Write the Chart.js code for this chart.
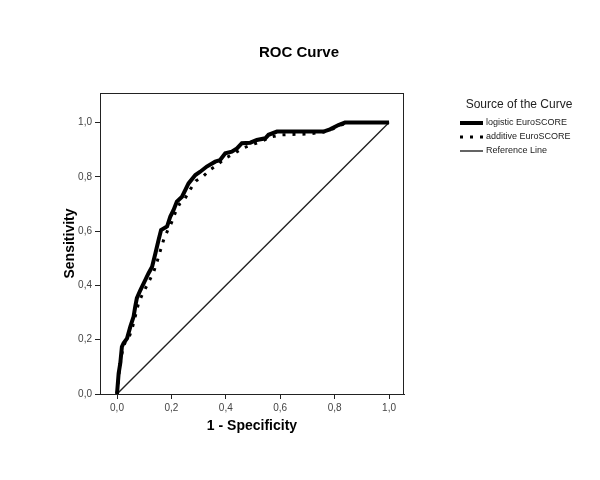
<!DOCTYPE html>
<html>
<head>
<meta charset="utf-8">
<script src="https://cdn.jsdelivr.net/npm/chart.js@4"></script>
<style>
  body { margin: 0; background: #fff; }
  #wrap { width: 600px; height: 480px; }
</style>
</head>
<body>
<div id="wrap"><canvas id="rocChart"></canvas></div>
<script>
// ROC data (1 - specificity, sensitivity)
const logisticFpr = [0, 0.006, 0.012, 0.018, 0.024, 0.037, 0.049, 0.061, 0.067, 0.073, 0.086, 0.098, 0.116, 0.129, 0.141, 0.153, 0.162, 0.184, 0.196, 0.208, 0.220, 0.239, 0.263, 0.288, 0.306, 0.330, 0.361, 0.379, 0.398, 0.422, 0.441, 0.459, 0.490, 0.514, 0.545, 0.557, 0.588, 0.759, 0.783, 0.814, 0.838, 1];
const logisticTpr = [0, 0.076, 0.113, 0.174, 0.187, 0.205, 0.248, 0.285, 0.322, 0.353, 0.383, 0.408, 0.445, 0.469, 0.518, 0.568, 0.604, 0.617, 0.654, 0.678, 0.709, 0.727, 0.776, 0.807, 0.819, 0.838, 0.856, 0.862, 0.887, 0.893, 0.905, 0.924, 0.926, 0.936, 0.942, 0.955, 0.967, 0.967, 0.975, 0.991, 1, 1];

const additiveFpr = [0, 0.008, 0.015, 0.022, 0.030, 0.045, 0.058, 0.068, 0.078, 0.090, 0.105, 0.120, 0.135, 0.148, 0.160, 0.172, 0.185, 0.200, 0.215, 0.230, 0.250, 0.270, 0.290, 0.315, 0.340, 0.370, 0.400, 0.430, 0.460, 0.500, 0.530, 0.560, 0.600, 0.700, 0.760, 0.790, 0.820, 0.850, 1];
const additiveTpr = [0, 0.080, 0.130, 0.170, 0.190, 0.210, 0.250, 0.290, 0.330, 0.360, 0.390, 0.420, 0.450, 0.490, 0.530, 0.570, 0.600, 0.630, 0.670, 0.700, 0.720, 0.755, 0.785, 0.800, 0.825, 0.845, 0.870, 0.885, 0.905, 0.920, 0.930, 0.945, 0.955, 0.958, 0.965, 0.975, 0.990, 1, 1];

const refFpr = [0, 1];
const refTpr = [0, 1];

const tickValues = [0, 0.2, 0.4, 0.6, 0.8, 1.0];
const seriesNames = ['logistic EuroSCORE', 'additive EuroSCORE', 'Reference Line'];

function toPoints(xs, ys) {
  return xs.map((x, i) => ({ x: x, y: ys[i] }));
}

function fmt(v) {
  return v.toFixed(1).replace('.', ',');
}

// box round the plot, title and legend
const frame = {
  id: 'frame',
  afterDraw(chart) {
    const { ctx, chartArea: a } = chart;
    ctx.save();
    ctx.strokeStyle = '#222';
    ctx.lineWidth = 1;
    ctx.strokeRect(a.left + 0.5, a.top + 0.5, a.right - a.left - 1, a.bottom - a.top);

    ctx.fillStyle = '#000';
    ctx.textAlign = 'center';
    ctx.textBaseline = 'middle';
    ctx.font = 'bold 15px "Liberation Sans", Arial, sans-serif';
    ctx.fillText('ROC Curve', 299, 53);

    ctx.font = '12px "Liberation Sans", Arial, sans-serif';
    ctx.fillStyle = '#222';
    ctx.fillText('Source of the Curve', 519, 105);

    ctx.textAlign = 'left';
    ctx.font = '9px "Liberation Sans", Arial, sans-serif';
    chart.data.datasets.forEach((ds, i) => {
      const y = 123 + i * 14;
      ctx.beginPath();
      ctx.strokeStyle = ds.borderColor;
      ctx.lineWidth = ds.borderWidth;
      ctx.setLineDash(ds.borderDash || []);
      ctx.moveTo(460, y);
      ctx.lineTo(483, y);
      ctx.stroke();
      ctx.setLineDash([]);
      ctx.fillStyle = '#222';
      ctx.fillText(ds.label, 486, y);
    });
    ctx.restore();
  }
};

new Chart(document.getElementById('rocChart'), {
  type: 'line',
  data: {
    datasets: [{
      label: seriesNames[0],
      data: toPoints(logisticFpr, logisticTpr),
      borderColor: '#000',
      borderWidth: 4,
      pointRadius: 0,
      tension: 0
    }, {
      label: seriesNames[1],
      data: toPoints(additiveFpr, additiveTpr),
      borderColor: '#000',
      borderWidth: 3,
      borderDash: [3, 7],
      pointRadius: 0,
      tension: 0
    }, {
      label: seriesNames[2],
      data: toPoints(refFpr, refTpr),
      borderColor: '#222',
      borderWidth: 1.4,
      pointRadius: 0,
      tension: 0
    }]
  },
  options: {
    responsive: true,
    maintainAspectRatio: false,
    animation: false,
    layout: { padding: { left: 58, right: 196, top: 93, bottom: 41 } },
    plugins: {
      legend: { display: false },
      tooltip: { enabled: false }
    },
    scales: {
      x: {
        type: 'linear',
        min: -0.0625,
        max: 1.055,
        afterBuildTicks: s => { s.ticks = tickValues.map(v => ({ value: v })); },
        afterFit: s => { s.height = 45; },
        ticks: {
          callback: v => fmt(v),
          color: '#444',
          font: { family: '"Liberation Sans", Arial, sans-serif', size: 10 },
          padding: 3,
          maxRotation: 0
        },
        grid: { drawOnChartArea: false, tickLength: 5, color: '#222' },
        border: { color: '#222' },
        title: {
          display: true,
          text: '1 - Specificity',
          color: '#000',
          font: { family: '"Liberation Sans", Arial, sans-serif', size: 14, weight: 'bold' },
          padding: { top: 0, bottom: 4 }
        }
      },
      y: {
        type: 'linear',
        min: 0,
        max: 1.109,
        afterBuildTicks: s => { s.ticks = tickValues.map(v => ({ value: v })); },
        afterFit: s => { s.width = 42; },
        ticks: {
          callback: v => fmt(v),
          color: '#444',
          font: { family: '"Liberation Sans", Arial, sans-serif', size: 10 },
          padding: 3
        },
        grid: { drawOnChartArea: false, tickLength: 5, color: '#222' },
        border: { color: '#222' },
        title: {
          display: true,
          text: 'Sensitivity',
          color: '#000',
          font: { family: '"Liberation Sans", Arial, sans-serif', size: 14, weight: 'bold' },
          padding: { top: 4, bottom: 0 }
        }
      }
    }
  },
  plugins: [frame]
});
</script>
</body>
</html>
